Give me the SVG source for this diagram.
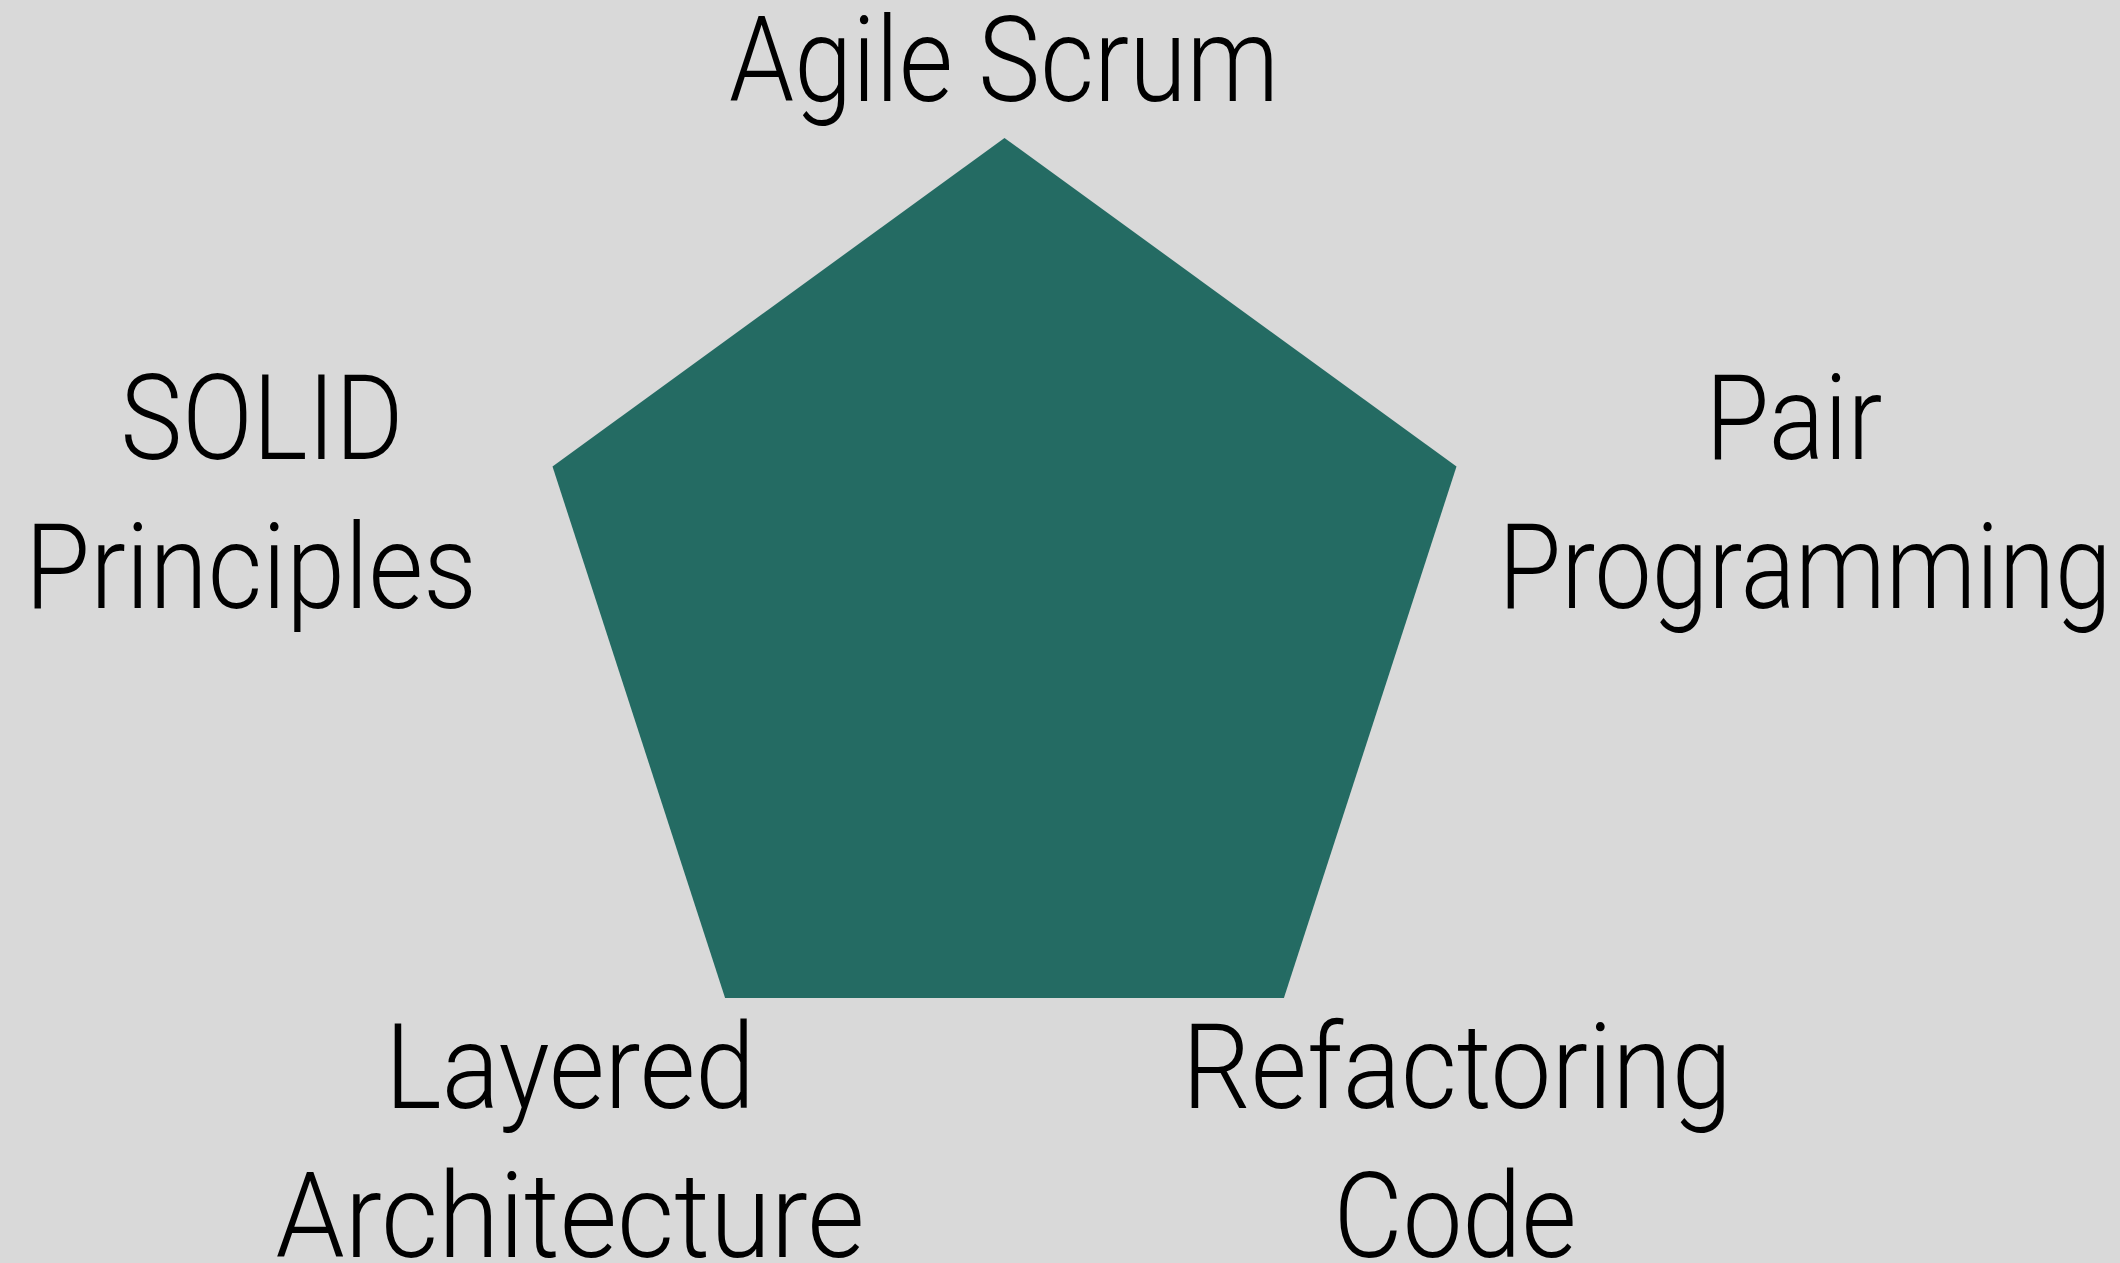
<svg xmlns="http://www.w3.org/2000/svg" width="2120" height="1263" viewBox="0 0 2120 1263">
  <style>
    .lbl { font-family: Roboto, "Liberation Sans", sans-serif; font-size: 118px; font-weight: 300; fill: #000000; text-anchor: middle; }
    .shape { fill: #246b63; }
  </style>
  <rect x="0" y="0" width="2120" height="1263" fill="#d9d9d9"/>
  <g id="pentagon">
    <polygon class="shape" points="1004.5,138 1456.5,466.5 1283.9,998 725.1,998 552.5,466.5"/>
  </g>
  <g id="connectors"/>
  <g id="node-agile-scrum">
    <text class="lbl" x="1004" y="101" textLength="550" lengthAdjust="spacingAndGlyphs">Agile Scrum</text>
  </g>
  <g id="node-solid">
    <text class="lbl" x="262" y="459" textLength="283" lengthAdjust="spacingAndGlyphs">SOLID</text>
    <text class="lbl" x="251" y="608" textLength="452" lengthAdjust="spacingAndGlyphs">Principles</text>
  </g>
  <g id="node-pair">
    <text class="lbl" x="1794" y="459" textLength="177" lengthAdjust="spacingAndGlyphs">Pair</text>
    <text class="lbl" x="1805" y="608" textLength="613" lengthAdjust="spacingAndGlyphs">Programming</text>
  </g>
  <g id="node-layered">
    <text class="lbl" x="570" y="1108" textLength="370" lengthAdjust="spacingAndGlyphs">Layered</text>
    <text class="lbl" x="570" y="1257" textLength="589" lengthAdjust="spacingAndGlyphs">Architecture</text>
  </g>
  <g id="node-refactoring">
    <text class="lbl" x="1457" y="1108" textLength="550" lengthAdjust="spacingAndGlyphs">Refactoring</text>
    <text class="lbl" x="1455" y="1257" textLength="243" lengthAdjust="spacingAndGlyphs">Code</text>
  </g>
</svg>
